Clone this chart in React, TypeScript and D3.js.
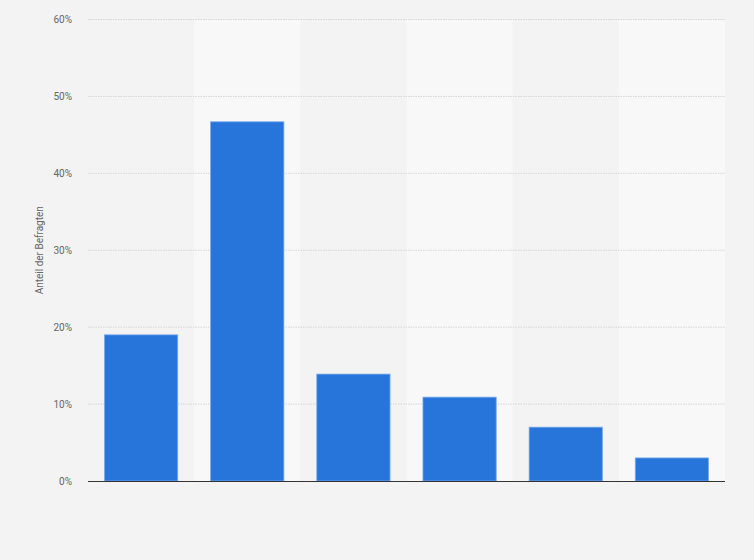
import React from "react";
import * as d3 from "d3";

const categories = ["Kategorie 1", "Kategorie 2", "Kategorie 3", "Kategorie 4", "Kategorie 5", "Kategorie 6"];
const values = [19, 46.7, 13.9, 10.9, 7, 3];
const yTicks = [0, 10, 20, 30, 40, 50, 60];
const yTitle = "Anteil der Befragten";

export default function App() {
  const W = 754, H = 560;
  const left = 88, right = 725, top = 19.5, bottom = 481;
  const x = d3.scaleBand<string>().domain(categories).range([left, right]).paddingInner(0).paddingOuter(0);
  const y = d3.scaleLinear().domain([0, 60]).range([bottom, top]);
  const bw = x.bandwidth();
  const barW = bw * 0.69;
  return (
    <svg width={W} height={H} style={{ position: "absolute", left: 0, top: 0, display: "block" }} fontFamily="Roboto, 'Open Sans', sans-serif">
      <rect x={0} y={0} width={W} height={H} fill="#f3f3f3" />
      {categories.map((c, i) => (
        <rect key={"b" + c} x={x(c)!} y={top} width={bw} height={bottom - top} fill={i % 2 === 1 ? "#f8f8f8" : "#f3f3f3"} />
      ))}
      {yTicks.map((t) => (
        <g key={t}>
          {t > 0 && (
            <line x1={left} x2={right} y1={y(t)} y2={y(t)} stroke="#d6d6d6" strokeWidth={1} strokeDasharray="1.5 1" />
          )}
          <text x={72} y={y(t)} dy="0.35em" textAnchor="end" fontSize={10} fill="#666">{t + "%"}</text>
        </g>
      ))}
      {categories.map((c, i) => (
        <rect key={c} x={x(c)! + (bw - barW) / 2} y={y(values[i])} width={barW} height={bottom - y(values[i])}
          fill="#2775db" stroke="#7aa9ea" strokeWidth={0.8} />
      ))}
      <line x1={left} x2={right} y1={bottom + 0.5} y2={bottom + 0.5} stroke="#333" strokeWidth={1.2} />
      <text transform={`translate(43,${(top + bottom) / 2}) rotate(-90)`} textAnchor="middle" fontSize={10} fill="#666">{yTitle}</text>
    </svg>
  );
}
